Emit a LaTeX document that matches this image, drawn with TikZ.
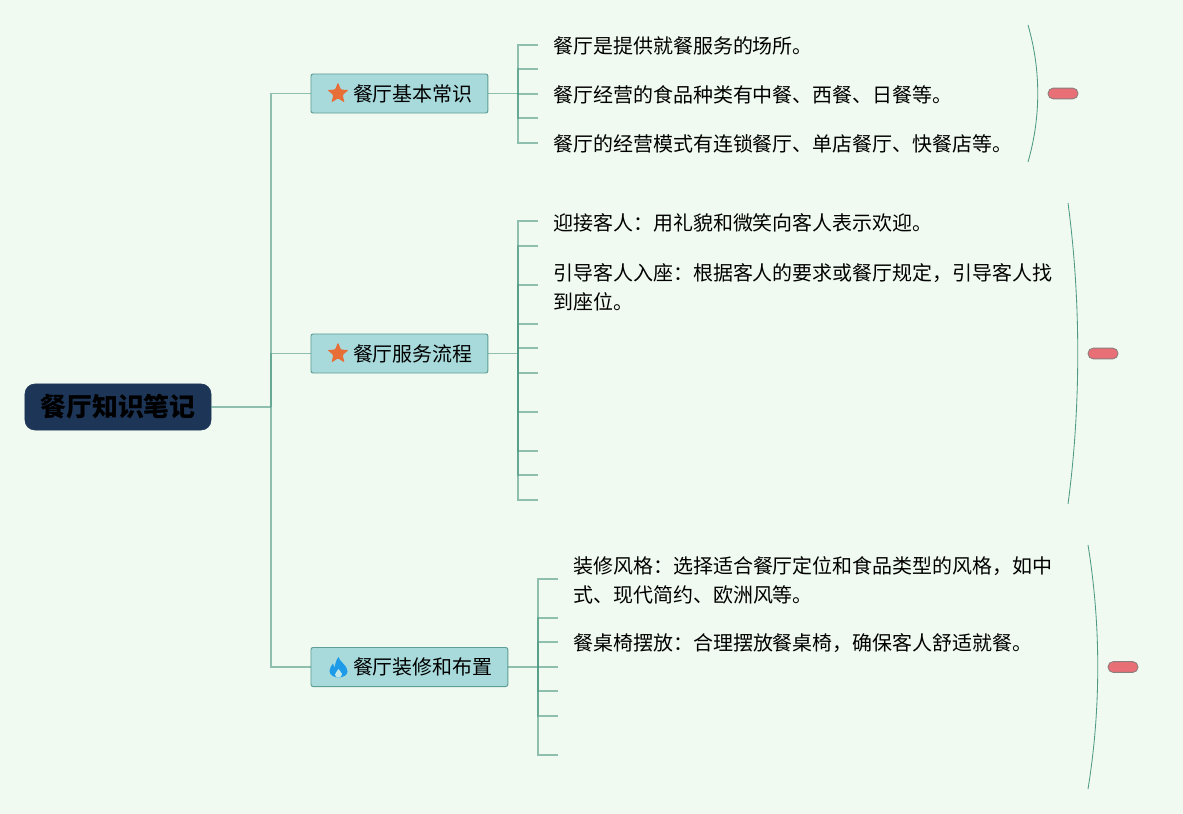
\documentclass[tikz,border=0pt]{standalone}
\usepackage{fontspec}
\setmainfont{Noto Sans CJK SC}
\usetikzlibrary{shapes.geometric}
\definecolor{pagebg}{HTML}{F0FAF0}
\definecolor{rootfill}{HTML}{1D3557}
\definecolor{topicfill}{HTML}{A8DADC}
\definecolor{topicline}{HTML}{5F9E95}
\definecolor{linkcol}{HTML}{4F9A85}
\definecolor{pillfill}{HTML}{E76F75}
\definecolor{starcol}{HTML}{E76F37}
\definecolor{flamecol}{HTML}{1E9BE8}
\tikzset{
  rootbox/.style={draw=rootfill, fill=rootfill, rounded corners=7pt, minimum width=4.65cm, minimum height=1.15cm, inner sep=0pt, font=\fontsize{18.4}{22}\selectfont\bfseries, text=black},
  topicbox/.style={draw=topicline, fill=topicfill, line width=0.7pt, rounded corners=1.5pt, minimum height=0.975cm, inner ysep=0pt, inner xsep=0.375cm, anchor=west, font=\fontsize{14.2}{18}\selectfont},
  leaftext/.style={anchor=west, inner sep=0pt, align=left, font=\fontsize{14.2}{20.6}\selectfont},
  link/.style={draw=linkcol, draw opacity=0.6, line width=0.75pt},
  rimline/.style={draw=linkcol, line width=0.6pt},
  pill/.style={draw=gray!90!pillfill, fill=pillfill, line width=0.6pt, rounded corners=3.7pt, minimum width=0.75cm, minimum height=0.27cm, inner sep=0pt},
  starmark/.style={star, star points=5, star point ratio=2.3, fill=starcol, rounded corners=0.8pt, minimum size=0.56cm, inner sep=0pt}
}
\begin{document}
\begin{tikzpicture}[x=0.025cm, y=-0.025cm]
  \useasboundingbox[fill=pagebg] (0,0) rectangle (1183,814);
  \node[rootbox] (root) at (118,407) {餐厅知识笔记};
  \node[topicbox] (basic) at (310.5,93.5) {\hspace*{0.675cm}餐厅基本常识};
  \node[topicbox] (service) at (310.5,353.5) {\hspace*{0.675cm}餐厅服务流程};
  \node[topicbox] (decor) at (310.5,667) {\hspace*{0.675cm}餐厅装修和布置};
  \node[starmark] (basicstar) at (338,93.5) {};
  \node[starmark] (servicestar) at (338,353.5) {};
  % flame icon
  \fill[flamecol] (338.5,657) .. controls (339.5,662) and (347.5,665) .. (347.5,671.5) .. controls (347.5,675) and (343,677.5) .. (338.5,677.5) .. controls (334,677.5) and (329.5,675) .. (329.5,671) .. controls (329.5,668) and (331.5,665.5) .. (333,663.5) .. controls (333.5,665.5) and (334,666.5) .. (335,667) .. controls (335,664) and (336,660) .. (338.5,657) -- cycle;
  \fill[topicfill!70!white] (338.5,669) .. controls (339,671) and (342,672) .. (342,674) .. controls (342,676) and (340.5,677.5) .. (338.5,677.5) .. controls (336.5,677.5) and (335,676) .. (335,674.5) .. controls (335,672.5) and (337.5,671.5) .. (338.5,669) -- cycle;
  % trunk
  \coordinate (trunk) at (271,407);
  \draw[link] (root.east) -- (trunk);
  \draw[link] (trunk) |- (basic.west);
  \draw[link] (trunk) |- (service.west);
  \draw[link] (trunk) |- (decor.west);
  % leaf stubs
  \coordinate (busa) at (518,93.5);
  \coordinate (busb) at (518,353.5);
  \coordinate (busc) at (538,667);
  \draw[link] (basic.east) -- (busa);
  \draw[link] (service.east) -- (busb);
  \draw[link] (decor.east) -- (busc);
  \foreach \y [count=\i] in {45,69,94,118,143} {
    \coordinate (stuba\i) at (538,\y);
    \draw[link] (busa) |- (stuba\i);
  }
  \foreach \y [count=\i] in {221,246,285,324,348,373,412,451,475,500} {
    \coordinate (stubb\i) at (538,\y);
    \draw[link] (busb) |- (stubb\i);
  }
  \foreach \y [count=\i] in {579,618,642,667,691,716,755} {
    \coordinate (stubc\i) at (558,\y);
    \draw[link] (busc) |- (stubc\i);
  }
  % leaf texts
  \node[leaftext] (a1) at (553,45.5) {餐厅是提供就餐服务的场所。};
  \node[leaftext] (a2) at (553,94.5) {餐厅经营的食品种类有中餐、西餐、日餐等。};
  \node[leaftext] (a3) at (553,144) {餐厅的经营模式有连锁餐厅、单店餐厅、快餐店等。};
  \node[leaftext] (b1) at (553,223) {迎接客人：用礼貌和微笑向客人表示欢迎。};
  \node[leaftext] (b2) at (553,287) {引导客人入座：根据客人的要求或餐厅规定，引导客人找\\到座位。};
  \node[leaftext] (c1) at (573,580) {装修风格：选择适合餐厅定位和食品类型的风格，如中\\式、现代简约、欧洲风等。};
  \node[leaftext] (c2) at (573,643.5) {餐桌椅摆放：合理摆放餐桌椅，确保客人舒适就餐。};
  % summaries
  \coordinate (rima1) at (1028,25);
  \coordinate (rima2) at (1028,162);
  \coordinate (rimb1) at (1068,203);
  \coordinate (rimb2) at (1068,504);
  \coordinate (rimc1) at (1088,545);
  \coordinate (rimc2) at (1088,789);
  \draw[rimline] (rima1) .. controls (1041,70) and (1041,117) .. (rima2);
  \draw[rimline] (rimb1) .. controls (1081,300) and (1081,407) .. (rimb2);
  \draw[rimline] (rimc1) .. controls (1101,625) and (1101,709) .. (rimc2);
  \node[pill] (pilla) at (1063,93.5) {};
  \node[pill] (pillb) at (1103,353.5) {};
  \node[pill] (pillc) at (1123,667) {};
\end{tikzpicture}
\end{document}
